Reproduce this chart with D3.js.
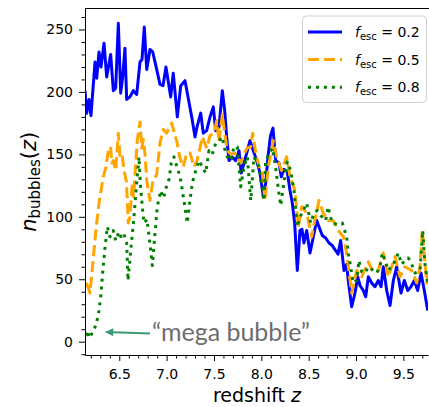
<!DOCTYPE html>
<html>
<head>
<meta charset="utf-8">
<script src="https://cdn.jsdelivr.net/npm/d3@7"></script>
<style>
body { margin: 0; background: #fff; }
svg { display: block; }
</style>
</head>
<body>
<div id="chart"></div>
<script>

var width = 429
var height = 407
var margin = {left: 85, right: 1, top: 8.5, bottom: 52}

// escape fraction 0.2
var zBlue = [6.138,6.156,6.180,6.201,6.244,6.262,6.286,6.307,6.339,6.367,6.409,6.437,6.462,6.490,6.515,6.536,6.560,6.578,6.613,6.648,6.684,6.719,6.740,6.764,6.790,6.824,6.853,6.895,6.930,6.962,6.993,7.018,7.043,7.070,7.113,7.149,7.194,7.226,7.265,7.300,7.321,7.360,7.387,7.423,7.458,7.493,7.518,7.553,7.588,7.613,7.634,7.659,7.690,7.729,7.764,7.788,7.817,7.849,7.880,7.915,7.951,7.986,8.021,8.046,8.070,8.097,8.123,8.152,8.187,8.211,8.239,8.274,8.303,8.327,8.352,8.380,8.408,8.429,8.450,8.479,8.514,8.549,8.585,8.609,8.644,8.680,8.715,8.749,8.785,8.810,8.838,8.873,8.901,8.918,8.954,8.989,9.018,9.042,9.077,9.102,9.130,9.165,9.200,9.235,9.264,9.288,9.324,9.359,9.394,9.429,9.446,9.475,9.510,9.546,9.580,9.615,9.651,9.686,9.721,9.757]
var nBlue = [201,183,194,181,224,211,232,220,239,212,230,201,203,255,199,212,235,194,196,201,198,224,226,252,218,234,232,218,206,205,220,208,196,215,180,205,209,196,180,164,172,183,167,169,180,188,169,172,201,185,164,145,148,145,153,135,143,152,161,153,145,135,116,127,148,165,171,145,143,132,138,136,121,111,95,57,89,90,79,89,71,84,97,92,85,83,79,77,73,70,81,57,62,49,28,39,52,45,41,36,52,47,44,49,44,60,41,29,49,60,52,39,49,41,44,49,41,55,41,25]

// escape fraction 0.5
var zOrange = [6.149,6.170,6.191,6.226,6.254,6.286,6.331,6.360,6.384,6.409,6.420,6.437,6.462,6.490,6.508,6.529,6.550,6.576,6.595,6.613,6.637,6.650,6.690,6.719,6.737,6.754,6.772,6.790,6.824,6.859,6.893,6.930,6.965,7.001,7.054,7.088,7.106,7.141,7.176,7.212,7.247,7.289,7.321,7.352,7.377,7.423,7.458,7.500,7.529,7.553,7.588,7.611,7.641,7.680,7.722,7.782,7.817,7.849,7.888,7.909,7.944,7.986,8.010,8.038,8.073,8.126,8.161,8.214,8.267,8.303,8.355,8.391,8.426,8.479,8.532,8.567,8.609,8.654,8.707,8.757,8.813,8.866,8.901,8.918,8.954,9.007,9.060,9.130,9.179,9.235,9.288,9.341,9.412,9.464,9.517,9.588,9.641,9.676,9.700,9.747,9.760]
var nOrange = [47,44,39,67,90,111,132,140,153,156,143,145,137,167,148,150,137,128,95,100,127,116,161,176,155,162,150,129,113,131,133,159,170,167,175,165,161,147,140,151,151,140,145,155,164,155,165,167,177,160,182,168,153,150,151,143,150,155,156,167,150,137,135,113,140,161,148,137,148,132,121,92,108,103,84,98,113,103,97,97,89,84,71,60,39,57,52,64,56,57,71,52,68,52,60,57,47,60,89,47,55]

// escape fraction 0.8
var zGreen = [6.149,6.164,6.180,6.207,6.233,6.265,6.286,6.307,6.321,6.346,6.374,6.402,6.437,6.462,6.497,6.523,6.550,6.578,6.592,6.621,6.655,6.684,6.708,6.724,6.743,6.761,6.793,6.832,6.849,6.874,6.901,6.937,6.967,7.001,7.025,7.049,7.078,7.096,7.120,7.149,7.183,7.218,7.241,7.271,7.307,7.342,7.377,7.413,7.447,7.482,7.518,7.553,7.588,7.606,7.641,7.677,7.711,7.746,7.782,7.817,7.852,7.888,7.923,7.975,8.000,8.028,8.046,8.081,8.116,8.152,8.187,8.205,8.239,8.274,8.310,8.345,8.380,8.408,8.443,8.479,8.521,8.556,8.591,8.627,8.680,8.704,8.749,8.802,8.855,8.901,8.920,8.936,8.971,9.007,9.031,9.060,9.095,9.130,9.182,9.218,9.253,9.277,9.306,9.341,9.394,9.446,9.482,9.517,9.552,9.588,9.622,9.676,9.704,9.728,9.757]
var nGreen = [5,9,3,6,9,17,25,38,52,73,92,84,89,81,88,83,86,79,49,73,100,127,148,125,108,95,98,73,61,84,108,121,115,125,130,143,148,143,138,129,113,95,110,127,137,145,140,135,153,150,159,161,164,156,148,145,156,156,124,140,148,113,148,140,127,113,145,150,155,139,118,109,128,144,137,121,92,100,105,111,95,103,105,101,97,108,95,94,95,84,70,63,47,49,65,56,55,60,57,55,60,71,65,57,62,71,62,65,67,62,55,57,89,62,47]

var xTicks = [6.5, 7.0, 7.5, 8.0, 8.5, 9.0, 9.5]
var yTicks = [0, 50, 100, 150, 200, 250]
var legendLabels = ['0.2', '0.5', '0.8']

var series = [
  {z: zBlue, n: nBlue, color: '#0000ff', dash: null},
  {z: zOrange, n: nOrange, color: '#ffa500', dash: '11.1,4.8'},
  {z: zGreen, n: nGreen, color: '#008000', dash: '3,4.95'}
]

var x = d3.scaleLinear()
  .domain([6.138, 9.76])
  .range([margin.left, width - margin.right])

var y = d3.scaleLinear()
  .domain([-10.65, 266.8])
  .range([height - margin.bottom, margin.top])

var svg = d3.select('#chart')
  .append('svg')
  .attr('width', width)
  .attr('height', height)

var defs = svg.append('defs')

defs.append('clipPath')
  .attr('id', 'clip')
  .append('rect')
  .attr('x', margin.left)
  .attr('y', margin.top)
  .attr('width', width - margin.right - margin.left)
  .attr('height', height - margin.bottom - margin.top)

var line = d3.line()
  .x(function(d) { return x(d[0]) })
  .y(function(d) { return y(d[1]) })

var plot = svg.append('g').attr('clip-path', 'url(#clip)')

series.forEach(function(s) {
  var pts = s.z.map(function(z, i) { return [z, s.n[i]] })
  plot.append('path')
    .datum(pts)
    .attr('d', line)
    .attr('fill', 'none')
    .attr('stroke', s.color)
    .attr('stroke-width', 3)
    .attr('stroke-linejoin', 'round')
    .attr('stroke-dasharray', s.dash)
})

// axes, major + minor ticks
var xMinor = d3.range(6.2, 9.76, 0.1).filter(function(v) {
  return xTicks.every(function(t) { return Math.abs(t - v) > 0.01 }) })
var yMinor = d3.range(-10, 267, 10).filter(function(v) { return v % 50 !== 0 })

svg.append('g')
  .attr('transform', 'translate(0,' + (height - margin.bottom) + ')')
  .call(d3.axisBottom(x).tickValues(xMinor).tickSize(3.5).tickFormat(''))
  .call(function(g) { g.select('.domain').remove() })

svg.append('g')
  .attr('transform', 'translate(' + margin.left + ',0)')
  .call(d3.axisLeft(y).tickValues(yMinor).tickSize(3.5).tickFormat(''))
  .call(function(g) { g.select('.domain').remove() })

var xAxis = svg.append('g')
  .attr('transform', 'translate(0,' + (height - margin.bottom) + ')')
  .call(d3.axisBottom(x).tickValues(xTicks).tickSize(6).tickPadding(8).tickSizeOuter(0)
    .tickFormat(d3.format('.1f')))

var yAxis = svg.append('g')
  .attr('transform', 'translate(' + margin.left + ',0)')
  .call(d3.axisLeft(y).tickValues(yTicks).tickSize(6).tickPadding(6).tickSizeOuter(0))

svg.selectAll('.tick text')
  .style('font-family', 'DejaVu Sans')
  .style('font-size', '14px')
  .attr('fill', '#000')

// top spine
svg.append('line')
  .attr('x1', margin.left).attr('x2', width)
  .attr('y1', margin.top).attr('y2', margin.top)
  .attr('stroke', '#000')

// axis labels
svg.append('text')
  .attr('x', (margin.left + width) / 2)
  .attr('y', 402)
  .attr('text-anchor', 'middle')
  .style('font-family', 'DejaVu Sans')
  .style('font-size', '19px')
  .html('redshift <tspan font-style="italic">z</tspan>')

svg.append('text')
  .attr('transform', 'translate(36,' + ((margin.top + height - margin.bottom) / 2) + ') rotate(-90)')
  .attr('text-anchor', 'middle')
  .style('font-family', 'DejaVu Sans')
  .style('font-size', '21px')
  .html('<tspan font-style="italic">n</tspan><tspan font-size="15px" dy="4">bubbles</tspan><tspan dy="-4">(</tspan><tspan font-style="italic">z</tspan><tspan>)</tspan>')

// legend
var legend = svg.append('g')

legend.append('rect')
  .attr('x', 302.5)
  .attr('y', 16)
  .attr('width', 124)
  .attr('height', 86.5)
  .attr('rx', 4)
  .attr('fill', '#fff')
  .attr('fill-opacity', 0.8)
  .attr('stroke', '#d0d0d0')

series.forEach(function(s, i) {
  var ly = 32 + i * 27.6
  legend.append('line')
    .attr('x1', 308).attr('x2', 342)
    .attr('y1', ly).attr('y2', ly)
    .attr('stroke', s.color)
    .attr('stroke-width', 3)
    .attr('stroke-dasharray', s.dash)
  legend.append('text')
    .attr('x', 355)
    .attr('y', ly + 5)
    .style('font-family', 'DejaVu Sans')
    .style('font-size', '14px')
    .html('<tspan font-style="italic">f</tspan><tspan font-size="10px" dy="3">esc</tspan><tspan dy="-3"> = ' + legendLabels[i] + '</tspan>')
})

// "mega bubble" annotation
defs.append('marker')
  .attr('id', 'head')
  .attr('viewBox', '0 0 10 10')
  .attr('refX', 9)
  .attr('refY', 5)
  .attr('markerWidth', 11)
  .attr('markerHeight', 8)
  .attr('markerUnits', 'userSpaceOnUse')
  .attr('orient', 'auto')
  .append('path')
  .attr('d', 'M0,0 L10,5 L0,10 Z')
  .attr('fill', '#3d9a70')

svg.append('line')
  .attr('x1', 150).attr('x2', 106)
  .attr('y1', 333.5).attr('y2', 332)
  .attr('stroke', '#3d9a70')
  .attr('stroke-width', 2)
  .attr('marker-end', 'url(#head)')

svg.append('text')
  .attr('x', 152)
  .attr('y', 341)
  .attr('textLength', 158)
  .attr('lengthAdjust', 'spacing')
  .style('font-family', 'Lato')
  .style('font-size', '25px')
  .attr('fill', '#6e6e6e')
  .text('\u201cmega bubble\u201d')

</script>
</body>
</html>
